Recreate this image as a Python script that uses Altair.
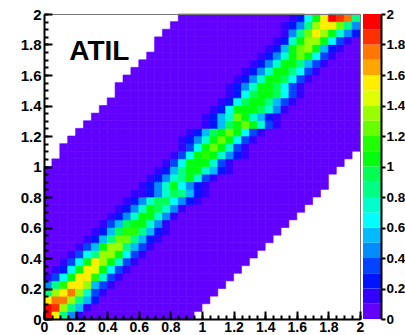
import altair as alt
import pandas as pd

# ---------------- data ----------------
# 40 x 40 bins on [0,2] x [0,2]; row j = y bin (0 at bottom)
n_bins = 40
bin_w = 0.05

# first / last filled x-bin in each y row (cells outside are empty / white)
row_start = [0] * 20 + [1, 2, 2, 3, 4, 5, 6, 7, 8, 9, 9, 10, 11, 12, 13, 14, 14, 15, 16, 17]
row_end = [18, 19, 20, 21, 22, 23, 24, 25, 26, 27, 28, 29, 30, 31, 32, 33, 34, 35, 35, 36,
           37, 38] + [39] * 18

# background value of filled cells outside the band
base_value = 0.05

# band: first x-bin of the coloured band in each row, and its cell values
band_first = [0, 0, 0, 0, 0, 0, 1, 2, 3, 4, 5, 6, 7, 8, 9, 10, 11, 12, 13, 14,
              15, 16, 17, 17, 18, 20, 20, 21, 22, 23, 23, 24, 25, 26, 27, 28, 29, 30, 30, 31]
band_values = [
    [1.95, 1.55, 0.85, 0.45, 0.15],
    [1.95, 1.85, 1.35, 0.85, 0.55, 0.15],
    [1.55, 1.75, 1.75, 1.35, 0.85, 0.55, 0.25],
    [0.85, 1.35, 1.55, 1.75, 1.35, 0.75, 0.35, 0.15],
    [0.45, 0.85, 1.15, 1.55, 1.55, 1.35, 0.55, 0.35, 0.15],
    [0.15, 0.35, 0.65, 1.05, 1.55, 1.55, 1.15, 0.75, 0.35, 0.15],
    [0.15, 0.25, 0.65, 1.05, 1.55, 1.45, 1.05, 0.65, 0.35, 0.15],
    [0.15, 0.35, 0.65, 1.05, 1.55, 1.35, 1.05, 0.75, 0.35, 0.15],
    [0.15, 0.35, 0.65, 0.85, 1.35, 1.35, 1.05, 0.65, 0.35, 0.15],
    [0.15, 0.35, 0.55, 1.05, 1.35, 1.35, 0.85, 0.55, 0.35, 0.15],
    [0.15, 0.25, 0.55, 0.85, 1.25, 1.25, 0.85, 0.55, 0.25, 0.15],
    [0.15, 0.25, 0.55, 0.95, 1.15, 1.15, 0.85, 0.55, 0.25, 0.15],
    [0.15, 0.35, 0.55, 0.95, 1.05, 1.05, 0.75, 0.45, 0.15],
    [0.15, 0.25, 0.45, 0.75, 1.05, 1.05, 0.75, 0.45, 0.15],
    [0.15, 0.25, 0.45, 0.75, 1.05, 0.95, 0.75, 0.45, 0.15],
    [0.15, 0.25, 0.45, 0.75, 0.95, 0.95, 0.65, 0.45, 0.25, 0.15],
    [0.15, 0.15, 0.25, 0.45, 0.75, 0.95, 0.85, 0.55, 0.25, 0.15],
    [0.15, 0.25, 0.45, 0.75, 1.05, 0.65, 0.45, 0.25, 0.15],
    [0.15, 0.25, 0.45, 0.75, 0.85, 1.05, 0.75, 0.35, 0.15],
    [0.15, 0.25, 0.55, 0.85, 1.05, 1.05, 0.75, 0.55, 0.25, 0.15],
    [0.15, 0.35, 0.65, 1.05, 1.05, 1.05, 0.75, 0.35, 0.15],
    [0.15, 0.35, 0.65, 1.05, 1.15, 1.05, 0.75, 0.45, 0.25, 0.15],
    [0.15, 0.35, 0.65, 1.05, 1.25, 1.05, 0.75, 0.35, 0.15],
    [0.15, 0.25, 0.45, 0.75, 1.05, 1.25, 1.05, 0.65, 0.35, 0.15],
    [0.15, 0.25, 0.55, 0.95, 1.05, 1.25, 1.05, 0.65, 0.35, 0.15],
    [0.15, 0.25, 0.55, 0.95, 1.05, 1.25, 1.05, 0.75, 0.35, 0.15],
    [0.15, 0.25, 0.55, 0.75, 1.25, 1.05, 0.75, 0.55, 0.25, 0.15],
    [0.15, 0.25, 0.65, 1.05, 1.05, 1.05, 0.95, 0.75, 0.45, 0.15],
    [0.15, 0.25, 0.65, 0.95, 1.05, 1.05, 0.85, 0.55, 0.35, 0.15],
    [0.15, 0.25, 0.65, 0.95, 1.05, 1.05, 0.95, 0.65, 0.35, 0.15],
    [0.15, 0.25, 0.45, 0.75, 1.05, 1.05, 0.95, 0.65, 0.35, 0.15],
    [0.15, 0.25, 0.45, 0.75, 1.05, 1.05, 0.95, 0.65, 0.35, 0.15],
    [0.15, 0.25, 0.45, 0.75, 1.05, 1.05, 0.85, 0.65, 0.35, 0.15],
    [0.15, 0.25, 0.45, 0.75, 1.05, 1.05, 0.85, 0.55, 0.35, 0.15],
    [0.15, 0.25, 0.45, 0.75, 1.05, 1.25, 1.05, 0.65, 0.35, 0.15],
    [0.15, 0.25, 0.55, 1.05, 1.25, 1.35, 1.05, 0.55, 0.25, 0.15],
    [0.15, 0.25, 0.75, 1.05, 1.35, 1.35, 1.05, 0.65, 0.35, 0.15],
    [0.15, 0.45, 0.85, 1.25, 1.55, 1.35, 1.05, 0.75, 0.45, 0.25],
    [0.15, 0.25, 0.45, 0.85, 1.35, 1.55, 1.55, 1.25, 0.85, 0.45],
    [0.15, 0.25, 0.65, 1.05, 1.55, 1.95, 1.85, 1.75, 0.85],
]

# colour palette: 20 contour levels from 0 to 2 (ROOT rainbow)
palette = ["#6200ff", "#3300ff", "#0014ff", "#0044ff", "#008bff", "#00bbff", "#00fffc",
           "#00ffcc", "#00ff85", "#00ff55", "#00ff0e", "#22ff00", "#69ff00", "#99ff00",
           "#e0ff00", "#ffee00", "#ffa700", "#ff7700", "#ff3000", "#ff0000"]
level_lows = [round(0.1 * k, 1) for k in range(20)]

major_ticks = [round(0.2 * k, 1) for k in range(11)]
minor_ticks = [round(0.05 * k, 2) for k in range(41)]

label_text = ["ATIL"]
label_x = [0.16]
label_y = [1.70]

# ---------------- build tables ----------------
recs = []
for j in range(n_bins):
    for i in range(row_start[j], row_end[j] + 1):
        k = i - band_first[j]
        v = band_values[j][k] if 0 <= k < len(band_values[j]) else base_value
        recs.append({"x0": i * bin_w, "x1": (i + 1) * bin_w,
                     "y0": j * bin_w, "y1": (j + 1) * bin_w, "v": v})
cells = pd.DataFrame(recs)

cbar = pd.DataFrame({"lo": level_lows,
                     "hi": [round(l + 0.1, 1) for l in level_lows],
                     "mid": [round(l + 0.05, 2) for l in level_lows]})
dummy = pd.DataFrame({"t": [0.0]})
labels = pd.DataFrame({"tx": label_x, "ty": label_y, "label": label_text})

# ---------------- chart ----------------
FONT = "Liberation Sans"
W, H, PLOT_W = 337, 305, 316
XS = alt.Scale(domain=[0, 2], range=[0, PLOT_W], nice=False, zero=False)
YS = alt.Scale(domain=[0, 2], nice=False, zero=False)
CS = alt.Scale(type="threshold", domain=[round(0.1 * k, 1) for k in range(1, 20)], range=palette)

lab = dict(labelFont=FONT, labelFontWeight="bold", labelColor="black",
           labelFlush=False, labelOverlap=False, grid=False, title=None)

heat = alt.Chart(cells).mark_rect(strokeWidth=0.6).encode(
    x=alt.X("x0:Q", scale=XS, axis=alt.Axis(orient="bottom", values=major_ticks, format="~g",
                                             ticks=False, tickSize=0, domainColor="black",
                                             domainWidth=2, labelPadding=1, labelFontSize=14,
                                             zindex=3, **lab)),
    x2="x1:Q",
    y=alt.Y("y0:Q", scale=YS, axis=alt.Axis(orient="left", values=major_ticks, format="~g",
                                             ticks=False, tickSize=0, domainColor="black",
                                             domainWidth=2, labelPadding=3, labelFontSize=15,
                                             zindex=3, **lab)),
    y2="y1:Q",
    fill=alt.Fill("v:Q", scale=CS, legend=None),
    stroke=alt.Stroke("v:Q", scale=CS, legend=None),
)


def tick_layer(vals, size):
    common = dict(values=vals, labels=False, domain=False, ticks=True, tickSize=size,
                  tickWidth=2, tickColor="black", grid=False, title=None, zindex=2)
    return alt.Chart(dummy).mark_point(opacity=0).encode(
        x=alt.X("t:Q", scale=XS, axis=alt.Axis(orient="top", offset=-H, **common)),
        y=alt.Y("t:Q", scale=YS, axis=alt.Axis(orient="right", offset=-W, **common)),
    )


minor = tick_layer(minor_ticks, 4)
major = tick_layer(major_ticks, 8)

frame_ax = dict(labels=False, ticks=False, domain=True, domainColor="#777777", domainWidth=1,
                grid=False, title=None, zindex=1)
frame = alt.Chart(dummy).mark_point(opacity=0).encode(
    x=alt.X("t:Q", scale=XS, axis=alt.Axis(orient="top", offset=0, **frame_ax)),
    y=alt.Y("t:Q", scale=YS, axis=alt.Axis(orient="right", offset=-(W - PLOT_W), **frame_ax)),
)

colorbar = alt.Chart(cbar).mark_rect().encode(
    x=alt.XDatum(0, scale=alt.Scale(domain=[0, 1], range=[PLOT_W + 3, W]), axis=None),
    x2=alt.X2Datum(1),
    y=alt.Y("lo:Q", scale=YS, axis=alt.Axis(orient="right", values=major_ticks, format="~g",
                                             tickSize=4, tickWidth=2, tickColor="black",
                                             domainColor="black", domainWidth=2,
                                             labelPadding=1, labelFontSize=13.5,
                                             zindex=2, **lab)),
    y2="hi:Q",
    fill=alt.Fill("mid:Q", scale=CS, legend=None),
)

text = alt.Chart(labels).mark_text(font=FONT, fontWeight="bold", fontSize=28, align="left",
                                   baseline="alphabetic", color="black").encode(
    x=alt.X("tx:Q", scale=XS, axis=None),
    y=alt.Y("ty:Q", scale=YS, axis=None),
    text="label:N",
)

chart = alt.layer(heat, minor, major, frame, colorbar, text).resolve_scale(
    x="independent", y="independent"
).resolve_axis(
    x="independent", y="independent"
).properties(
    width=W, height=H,
    padding={"left": 44, "top": 14, "right": 24, "bottom": 16},
    autosize=alt.AutoSizeParams(type="none"),
    background="white",
).configure_view(stroke=None)

chart.save("out.html", embed_options={"renderer": "svg", "actions": False})
